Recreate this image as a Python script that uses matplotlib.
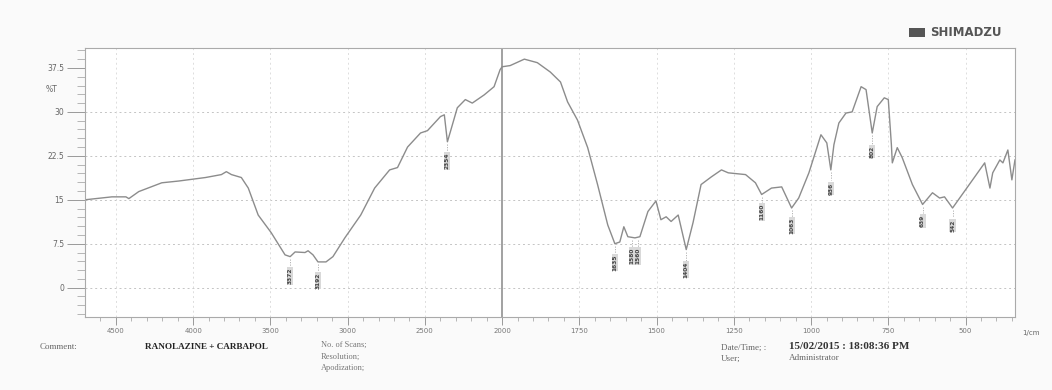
import matplotlib
matplotlib.use("Agg")
import matplotlib.pyplot as plt
import matplotlib.patches as mpatches
import numpy as np

# spectrum (wavenumber 1/cm, %T)
wavenumber = [4700, 4526, 4435, 4416, 4352, 4203, 4094, 3920, 3817, 3785, 3752, 3688,
              3643, 3579, 3495, 3405, 3372, 3340, 3276, 3256, 3224, 3192, 3140, 3095,
              3018, 2915, 2825, 2728, 2677, 2612, 2528, 2483, 2399, 2374, 2354, 2335,
              2290, 2238, 2193, 2116, 2052, 2013,
              2000, 1974, 1928, 1886, 1844, 1811, 1788, 1756, 1723, 1691, 1658, 1635,
              1619, 1606, 1593, 1570, 1554, 1528, 1502, 1486, 1469, 1453, 1430, 1404,
              1382, 1356, 1323, 1290, 1268, 1212, 1180, 1160, 1128, 1095, 1063, 1040,
              1007, 968, 949, 936, 926, 910, 887, 867, 838, 822, 802, 786, 763, 750,
              740, 737, 721, 705, 672, 639, 607, 584, 568, 542, 496, 438, 421, 412,
              389, 379, 363, 350, 340]
transmittance = [15.0, 15.5, 15.5, 15.2, 16.4, 17.9, 18.2, 18.8, 19.3, 19.8, 19.3, 18.8,
                 17.0, 12.4, 9.4, 5.6, 5.3, 6.1, 6.0, 6.3, 5.6, 4.4, 4.4, 5.3,
                 8.5, 12.4, 17.0, 20.1, 20.5, 24.0, 26.4, 26.8, 29.2, 29.5, 24.9, 26.6,
                 30.7, 32.1, 31.5, 32.9, 34.3, 37.2,
                 37.7, 37.9, 39.0, 38.4, 36.8, 35.1, 31.7, 28.6, 23.9, 17.6, 10.7, 7.5,
                 7.8, 10.4, 8.7, 8.5, 8.7, 13.0, 14.8, 11.6, 12.1, 11.3, 12.4, 6.5,
                 11.1, 17.6, 18.9, 20.1, 19.6, 19.3, 17.9, 15.9, 17.0, 17.2, 13.6, 15.3,
                 19.6, 26.1, 24.7, 20.1, 24.4, 28.1, 29.8, 30.0, 34.3, 33.8, 26.4, 30.9, 32.4, 32.1,
                 24.4, 21.3, 23.9, 22.2, 17.6, 14.2, 16.2, 15.3, 15.5, 13.6, 17.0, 21.3, 17.0, 19.6,
                 21.8, 21.3, 23.5, 18.4, 21.8]

# peak picks: position, %T at the dip, %T of label centre
peak_wn = [3372, 3192, 2354, 1635, 1580, 1560, 1404, 1160, 1063, 936, 802, 639, 542]
peak_t = [5.3, 4.4, 24.9, 7.5, 8.5, 8.6, 6.5, 15.9, 13.6, 20.1, 26.4, 14.2, 13.6]
label_t = [2.0, 1.2, 21.6, 4.3, 5.4, 5.4, 3.1, 12.9, 10.6, 16.9, 23.2, 11.4, 10.6]

xticks = [4500, 4000, 3500, 3000, 2500, 2000, 1750, 1500, 1250, 1000, 750, 500]
yticks = [0, 7.5, 15, 22.5, 30, 37.5]


# Shimadzu plot: scale halves above 2000 1/cm
def fwd(w):
    w = np.asarray(w, dtype=float)
    return np.where(w > 2000, 2000 + (w - 2000) / 2, w)


def inv(p):
    p = np.asarray(p, dtype=float)
    return np.where(p > 2000, 2000 + (p - 2000) * 2, p)


fig = plt.figure(figsize=(10.52, 3.9), dpi=100, facecolor="#fafafa")
ax = fig.add_axes([0.0808, 0.1872, 0.884, 0.6897])
ax.set_facecolor("white")
ax.set_xscale("function", functions=(fwd, inv))
ax.set_xlim(4700, 340)
ax.set_ylim(-5, 40.9)

ax.plot(wavenumber, transmittance, color="#8c8c8c", lw=1.0)

# peak labels
for w, t, lt in zip(peak_wn, peak_t, label_t):
    ax.plot([w, w], [t - 0.4, lt + 1.4], color="#aaaaaa", lw=0.6, ls=(0, (1.5, 1.5)))
    ax.text(w, lt, str(w), rotation=90, ha="center", va="center", fontsize=4.2,
            color="#444444", fontweight="bold",
            bbox=dict(boxstyle="square,pad=0.1", fc="#d9d9d9", ec="none"))

ax.set_xticks(xticks)
ax.set_xticklabels([str(t) for t in xticks], fontsize=5, color="#777777")
ax.set_yticks(yticks)
ax.set_yticklabels(["0", "7.5", "15", "22.5", "30", "37.5"], fontsize=5.5, color="#666666")
ax.set_yticks(np.arange(-4.5, 40.9, 1.5), minor=True)
ax.set_xticks([4600, 4400, 4300, 4200, 4100, 3900, 3800, 3700, 3600, 3400, 3300, 3200, 3100,
               2900, 2800, 2700, 2600, 2400, 2300, 2200, 2100, 1950, 1900, 1850, 1800,
               1700, 1650, 1600, 1550, 1450, 1400, 1350, 1300, 1200, 1150, 1100, 1050,
               950, 900, 850, 800, 700, 650, 600, 550, 450, 400, 350], minor=True)
ax.tick_params(axis="y", which="major", length=13, width=0.7, color="#999999", pad=2)
ax.tick_params(axis="y", which="minor", length=6, width=0.6, color="#aaaaaa")
ax.tick_params(axis="x", which="major", length=6, width=0.7, color="#999999", pad=2)
ax.tick_params(axis="x", which="minor", length=3, width=0.6, color="#aaaaaa")
ax.text(-0.03, (33.75 + 5) / 45.9, "%T", transform=ax.transAxes, fontsize=5.5,
        color="#666666", ha="right", va="center")
ax.text(1.008, -0.06, "1/cm", transform=ax.transAxes, fontsize=5, color="#666666",
        ha="left", va="center")

for y in yticks[:-1]:
    ax.axhline(y, color="#c4c4c4", lw=0.7, ls=(0, (2, 3)), zorder=0)
for x in xticks:
    if x == 2000:
        ax.axvline(x, color="#9a9a9a", lw=1.3, zorder=0)
    else:
        ax.axvline(x, color="#dddddd", lw=0.7, ls=(0, (2, 3)), zorder=0)
for s in ax.spines.values():
    s.set_color("#aaaaaa")
    s.set_linewidth(0.8)

# header / footer
fig.patches.append(mpatches.Rectangle((0.864, 0.905), 0.015, 0.022, transform=fig.transFigure,
                                      fc="#555555", ec="none"))
fig.text(0.884, 0.916, "SHIMADZU", fontsize=8.5, fontweight="bold", color="#555555",
         va="center", family="DejaVu Sans")
serif = "Liberation Serif"
fig.text(0.038, 0.104, "Comment:", fontsize=6.5, color="#666666", family=serif)
fig.text(0.138, 0.104, "RANOLAZINE + CARBAPOL", fontsize=6.6, fontweight="bold",
         color="#222222", family=serif)
fig.text(0.305, 0.110, "No. of Scans;", fontsize=6, color="#777777", family=serif)
fig.text(0.305, 0.080, "Resolution;", fontsize=6, color="#777777", family=serif)
fig.text(0.305, 0.050, "Apodization;", fontsize=6, color="#777777", family=serif)
fig.text(0.685, 0.104, "Date/Time; :", fontsize=6.5, color="#666666", family=serif)
fig.text(0.750, 0.104, "15/02/2015 : 18:08:36 PM", fontsize=8, fontweight="bold",
         color="#333333", family=serif)
fig.text(0.685, 0.076, "User;", fontsize=6.5, color="#666666", family=serif)
fig.text(0.750, 0.076, "Administrator", fontsize=6.5, color="#666666", family=serif)

fig.savefig("out.png", dpi=100, facecolor=fig.get_facecolor())
